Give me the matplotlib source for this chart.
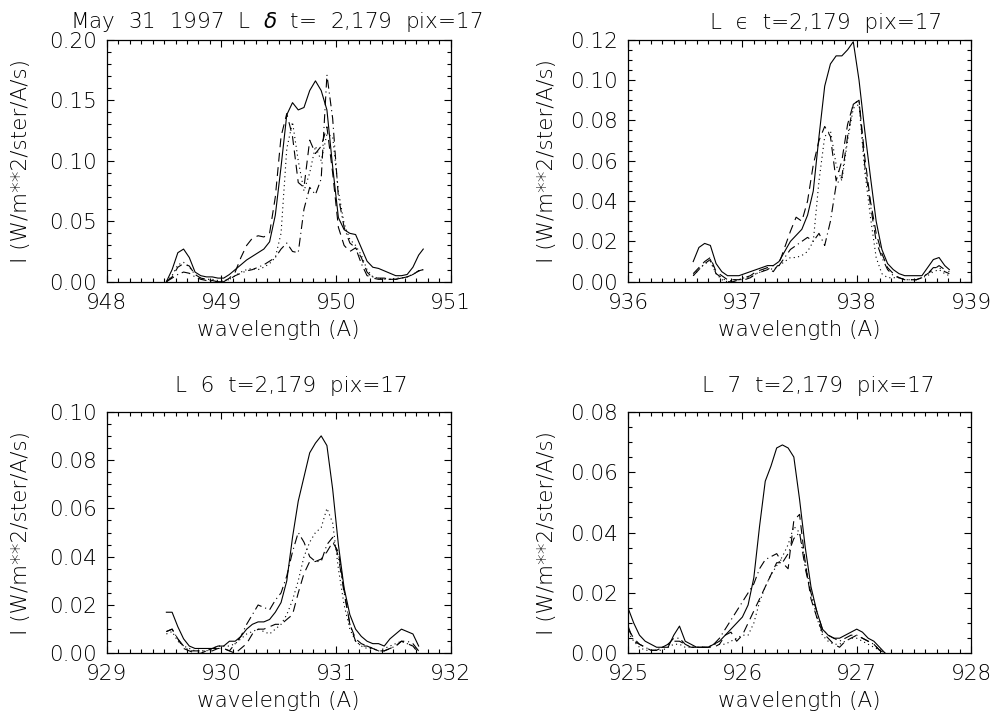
import matplotlib
matplotlib.use("Agg")
import matplotlib.pyplot as plt
from matplotlib.ticker import MultipleLocator, FormatStrFormatter

# ---------------------------------------------------------------
# Profils de raies (4 courbes par raie)
# ---------------------------------------------------------------
# Lyman delta
wl_delta = [948.52, 948.57, 948.62, 948.67, 948.72, 948.77, 948.82, 948.87, 948.92, 948.97,
            949.02, 949.07, 949.12, 949.17, 949.22, 949.27, 949.32, 949.37, 949.42, 949.47,
            949.52, 949.57, 949.62, 949.67, 949.72, 949.77, 949.82, 949.87, 949.92, 949.97,
            950.02, 950.07, 950.12, 950.17, 950.22, 950.27, 950.32, 950.37, 950.42, 950.47,
            950.52, 950.57, 950.62, 950.67, 950.72, 950.76]
delta_solid = [0.000, 0.010, 0.024, 0.027, 0.020, 0.008, 0.005, 0.004, 0.004, 0.003,
               0.003, 0.006, 0.010, 0.014, 0.018, 0.021, 0.024, 0.027, 0.033, 0.055,
               0.095, 0.138, 0.148, 0.142, 0.144, 0.158, 0.166, 0.158, 0.142, 0.095,
               0.053, 0.043, 0.040, 0.039, 0.028, 0.017, 0.012, 0.011, 0.009, 0.007,
               0.005, 0.005, 0.006, 0.012, 0.022, 0.027]
delta_dash = [0.000, 0.004, 0.012, 0.015, 0.013, 0.006, 0.003, 0.002, 0.001, 0.000,
              0.000, 0.003, 0.008, 0.020, 0.030, 0.036, 0.038, 0.037, 0.040, 0.070,
              0.120, 0.139, 0.120, 0.082, 0.078, 0.117, 0.106, 0.112, 0.128, 0.090,
              0.045, 0.030, 0.025, 0.028, 0.020, 0.008, 0.003, 0.002, 0.002, 0.002,
              0.002, 0.003, 0.004, 0.006, 0.009, 0.010]
delta_dashdot = [0.000, 0.003, 0.006, 0.008, 0.007, 0.004, 0.002, 0.001, 0.000, 0.000,
                 0.000, 0.002, 0.005, 0.007, 0.009, 0.010, 0.012, 0.014, 0.017, 0.020,
                 0.027, 0.032, 0.025, 0.024, 0.060, 0.078, 0.072, 0.085, 0.171, 0.135,
                 0.070, 0.045, 0.032, 0.028, 0.015, 0.005, 0.004, 0.003, 0.003, 0.002,
                 0.002, 0.003, 0.004, 0.006, 0.009, 0.010]
delta_dot = [0.000, 0.005, 0.014, 0.016, 0.012, 0.006, 0.003, 0.002, 0.002, 0.001,
             0.001, 0.002, 0.005, 0.008, 0.010, 0.011, 0.010, 0.012, 0.015, 0.020,
             0.040, 0.110, 0.132, 0.100, 0.075, 0.090, 0.112, 0.100, 0.122, 0.120,
             0.075, 0.048, 0.035, 0.030, 0.022, 0.010, 0.004, 0.003, 0.002, 0.002,
             0.003, 0.003, 0.004, 0.006, 0.009, 0.010]

# Lyman epsilon
wl_eps = [936.57, 936.62, 936.67, 936.72, 936.77, 936.82, 936.87, 936.92, 936.97, 937.02,
          937.07, 937.12, 937.17, 937.22, 937.27, 937.32, 937.37, 937.42, 937.47, 937.52,
          937.57, 937.62, 937.67, 937.72, 937.77, 937.82, 937.87, 937.92, 937.97, 938.02,
          938.07, 938.12, 938.17, 938.22, 938.27, 938.32, 938.37, 938.42, 938.47, 938.52,
          938.57, 938.62, 938.67, 938.72, 938.77, 938.81]
eps_solid = [0.010, 0.017, 0.019, 0.018, 0.009, 0.005, 0.003, 0.003, 0.003, 0.004,
             0.005, 0.006, 0.007, 0.008, 0.008, 0.010, 0.015, 0.020, 0.023, 0.026,
             0.033, 0.045, 0.072, 0.097, 0.108, 0.112, 0.112, 0.115, 0.119, 0.100,
             0.075, 0.052, 0.030, 0.016, 0.009, 0.006, 0.004, 0.003, 0.003, 0.003,
             0.003, 0.007, 0.011, 0.012, 0.008, 0.006]
eps_dash = [0.004, 0.007, 0.010, 0.012, 0.005, 0.003, 0.001, 0.001, 0.001, 0.002,
            0.003, 0.005, 0.006, 0.007, 0.005, 0.009, 0.017, 0.025, 0.032, 0.030,
            0.040, 0.058, 0.070, 0.077, 0.072, 0.050, 0.060, 0.078, 0.088, 0.090,
            0.062, 0.040, 0.024, 0.014, 0.007, 0.004, 0.002, 0.001, 0.001, 0.001,
            0.002, 0.004, 0.006, 0.008, 0.006, 0.005]
eps_dashdot = [0.003, 0.006, 0.009, 0.011, 0.004, 0.002, 0.000, 0.000, 0.001, 0.001,
               0.002, 0.004, 0.005, 0.006, 0.008, 0.008, 0.012, 0.016, 0.018, 0.020,
               0.022, 0.020, 0.024, 0.018, 0.030, 0.048, 0.052, 0.072, 0.088, 0.090,
               0.058, 0.038, 0.020, 0.012, 0.006, 0.003, 0.002, 0.001, 0.001, 0.001,
               0.002, 0.004, 0.007, 0.007, 0.005, 0.004]
eps_dot = [0.003, 0.006, 0.009, 0.010, 0.004, 0.001, 0.000, 0.001, 0.001, 0.002,
           0.002, 0.004, 0.005, 0.007, 0.006, 0.008, 0.010, 0.012, 0.012, 0.013,
           0.015, 0.020, 0.050, 0.072, 0.075, 0.058, 0.050, 0.070, 0.086, 0.088,
           0.055, 0.032, 0.012, 0.004, 0.002, 0.002, 0.002, 0.001, 0.001, 0.001,
           0.002, 0.003, 0.005, 0.006, 0.004, 0.003]

# Lyman 6
wl_6 = [929.52, 929.57, 929.62, 929.67, 929.72, 929.77, 929.82, 929.87, 929.92, 929.97,
        930.02, 930.07, 930.12, 930.17, 930.22, 930.27, 930.32, 930.37, 930.42, 930.47,
        930.52, 930.57, 930.62, 930.67, 930.72, 930.77, 930.82, 930.87, 930.92, 930.97,
        931.02, 931.07, 931.12, 931.17, 931.22, 931.27, 931.32, 931.37, 931.42, 931.47,
        931.52, 931.57, 931.62, 931.67, 931.72]
l6_solid = [0.017, 0.017, 0.011, 0.006, 0.003, 0.002, 0.002, 0.002, 0.002, 0.003,
            0.003, 0.005, 0.005, 0.007, 0.010, 0.012, 0.013, 0.013, 0.014, 0.017,
            0.021, 0.030, 0.048, 0.063, 0.073, 0.083, 0.087, 0.090, 0.086, 0.068,
            0.045, 0.027, 0.016, 0.010, 0.007, 0.005, 0.004, 0.004, 0.003, 0.006,
            0.008, 0.010, 0.009, 0.008, 0.003]
l6_dashdot = [0.009, 0.010, 0.006, 0.003, 0.001, 0.001, 0.001, 0.001, 0.002, 0.002,
              0.002, 0.001, 0.004, 0.007, 0.012, 0.016, 0.020, 0.019, 0.018, 0.022,
              0.025, 0.032, 0.042, 0.050, 0.046, 0.040, 0.038, 0.038, 0.045, 0.048,
              0.040, 0.025, 0.012, 0.005, 0.003, 0.003, 0.002, 0.001, 0.001, 0.002,
              0.003, 0.005, 0.005, 0.004, 0.001]
l6_dot = [0.008, 0.009, 0.005, 0.003, 0.002, 0.001, 0.001, 0.001, 0.002, 0.003,
          0.003, 0.003, 0.004, 0.006, 0.008, 0.009, 0.010, 0.009, 0.008, 0.010,
          0.012, 0.016, 0.022, 0.030, 0.040, 0.046, 0.050, 0.052, 0.060, 0.054,
          0.035, 0.020, 0.010, 0.005, 0.003, 0.002, 0.002, 0.001, 0.002, 0.003,
          0.004, 0.005, 0.004, 0.003, 0.001]
l6_dash = [0.009, 0.010, 0.006, 0.002, 0.001, 0.000, 0.000, 0.001, 0.001, 0.002,
           0.002, 0.001, 0.000, 0.002, 0.004, 0.008, 0.010, 0.010, 0.011, 0.012,
           0.012, 0.014, 0.016, 0.025, 0.033, 0.038, 0.038, 0.039, 0.042, 0.046,
           0.042, 0.026, 0.012, 0.006, 0.004, 0.003, 0.002, 0.001, 0.001, 0.002,
           0.003, 0.005, 0.004, 0.003, 0.000]

# Lyman 7
wl_7 = [925.00, 925.05, 925.10, 925.15, 925.20, 925.25, 925.30, 925.35, 925.40, 925.45,
        925.50, 925.55, 925.60, 925.65, 925.70, 925.75, 925.80, 925.85, 925.90, 925.95,
        926.00, 926.05, 926.10, 926.15, 926.20, 926.25, 926.30, 926.35, 926.40, 926.45,
        926.50, 926.55, 926.60, 926.65, 926.70, 926.75, 926.80, 926.85, 926.90, 926.95,
        927.00, 927.05, 927.10, 927.15, 927.20, 927.25]
l7_solid = [0.015, 0.010, 0.006, 0.004, 0.003, 0.002, 0.002, 0.002, 0.006, 0.009,
            0.004, 0.003, 0.002, 0.002, 0.002, 0.003, 0.004, 0.006, 0.008, 0.010,
            0.012, 0.016, 0.025, 0.042, 0.057, 0.062, 0.068, 0.069, 0.068, 0.065,
            0.051, 0.035, 0.022, 0.014, 0.008, 0.006, 0.005, 0.005, 0.006, 0.007,
            0.008, 0.007, 0.005, 0.004, 0.002, 0.000]
l7_dash = [0.008, 0.005, 0.003, 0.002, 0.001, 0.001, 0.002, 0.003, 0.004, 0.004,
           0.003, 0.002, 0.002, 0.002, 0.002, 0.002, 0.003, 0.006, 0.007, 0.004,
           0.006, 0.010, 0.014, 0.018, 0.022, 0.026, 0.030, 0.030, 0.028, 0.044,
           0.046, 0.030, 0.018, 0.012, 0.007, 0.005, 0.003, 0.002, 0.004, 0.005,
           0.006, 0.005, 0.004, 0.003, 0.001, 0.000]
l7_dashdot = [0.009, 0.004, 0.003, 0.002, 0.001, 0.001, 0.002, 0.003, 0.005, 0.005,
              0.003, 0.002, 0.002, 0.002, 0.002, 0.003, 0.005, 0.008, 0.011, 0.014,
              0.017, 0.020, 0.023, 0.028, 0.031, 0.032, 0.033, 0.030, 0.033, 0.038,
              0.040, 0.028, 0.020, 0.014, 0.008, 0.006, 0.005, 0.004, 0.005, 0.006,
              0.006, 0.005, 0.004, 0.003, 0.001, 0.000]
l7_dot = [0.007, 0.004, 0.002, 0.001, 0.001, 0.001, 0.001, 0.002, 0.003, 0.003,
          0.002, 0.002, 0.002, 0.002, 0.002, 0.003, 0.003, 0.003, 0.004, 0.005,
          0.006, 0.006, 0.010, 0.017, 0.022, 0.026, 0.029, 0.032, 0.036, 0.042,
          0.040, 0.030, 0.020, 0.012, 0.006, 0.004, 0.003, 0.003, 0.004, 0.005,
          0.005, 0.004, 0.003, 0.002, 0.001, 0.000]

titles = ["May  31  1997  L  $\\delta$  t=  2,179  pix=17",
          "L  \u03f5  t=2,179  pix=17",
          "L  6  t=2,179  pix=17",
          "L  7  t=2,179  pix=17"]
xranges = [(948, 951), (936, 939), (929, 932), (925, 928)]
yranges = [(0, 0.20), (0, 0.12), (0, 0.10), (0, 0.08)]
ymajor = [0.05, 0.02, 0.02, 0.02]
yminor = [0.01, 0.005, 0.005, 0.005]

panels = [
    (wl_delta, delta_solid, delta_dash, delta_dashdot, delta_dot),
    (wl_eps, eps_solid, eps_dash, eps_dashdot, eps_dot),
    (wl_6, l6_solid, l6_dash, l6_dashdot, l6_dot),
    (wl_7, l7_solid, l7_dash, l7_dashdot, l7_dot),
]

##############################################################
# FIGURE
##############################################################
plt.rcParams['font.family'] = ['DejaVu Sans']
plt.rcParams['font.weight'] = 'light'
plt.rcParams['axes.labelweight'] = 'light'
plt.rcParams['mathtext.fontset'] = 'custom'
plt.rcParams['mathtext.it'] = 'DejaVu Sans:italic:light'
plt.rcParams['mathtext.rm'] = 'DejaVu Sans:light'
fs = 15.5
fig = plt.figure(figsize=(9.92, 7.25), dpi=100)

# positions des axes (fraction de la figure)
boxes = [[0.1076, 0.6114, 0.3468, 0.3338],
         [0.6331, 0.6114, 0.3458, 0.3338],
         [0.1076, 0.0989, 0.3468, 0.3332],
         [0.6331, 0.0989, 0.3458, 0.3332]]
title_pos = [(0.2782, 0.9614), (0.8327, 0.9600), (0.2933, 0.4593), (0.8246, 0.4593)]
ylab_x = [-0.221, -0.207, -0.221, -0.207]

for k in range(4):
    ax = fig.add_axes(boxes[k])
    wl, s_solid, s_dash, s_dashdot, s_dot = panels[k]
    ax.plot(wl, s_solid, color="k", lw=0.8)
    ax.plot(wl, s_dash, color="k", lw=0.8, dashes=(8, 5))
    ax.plot(wl, s_dashdot, color="k", lw=0.8, dashes=(8, 3.5, 1, 3.5))
    ax.plot(wl, s_dot, color="k", lw=0.8, dashes=(1, 3))

    ax.set_xlim(*xranges[k])
    ax.set_ylim(*yranges[k])
    ax.xaxis.set_major_locator(MultipleLocator(1))
    ax.xaxis.set_minor_locator(MultipleLocator(0.1))
    ax.yaxis.set_major_locator(MultipleLocator(ymajor[k]))
    ax.yaxis.set_minor_locator(MultipleLocator(yminor[k]))
    ax.yaxis.set_major_formatter(FormatStrFormatter("%.2f"))
    ax.xaxis.set_major_formatter(FormatStrFormatter("%d"))
    ax.tick_params(which="both", direction="in", top=True, right=True,
                   width=0.8, labelsize=fs)
    ax.tick_params(which="major", length=5)
    ax.tick_params(which="minor", length=2.8)
    ax.tick_params(axis="x", pad=8)
    ax.tick_params(axis="y", pad=7)
    for sp in ax.spines.values():
        sp.set_linewidth(0.9)

    ax.set_xlabel("wavelength (A)", fontsize=fs, labelpad=5)
    ax.set_ylabel("I (W/m**2/ster/A/s)", fontsize=fs)
    ax.yaxis.set_label_coords(ylab_x[k], 0.5)

    fig.text(title_pos[k][0], title_pos[k][1], titles[k], fontsize=fs,
             ha="center", va="baseline")

fig.savefig("out.png", dpi=100, facecolor="white")
